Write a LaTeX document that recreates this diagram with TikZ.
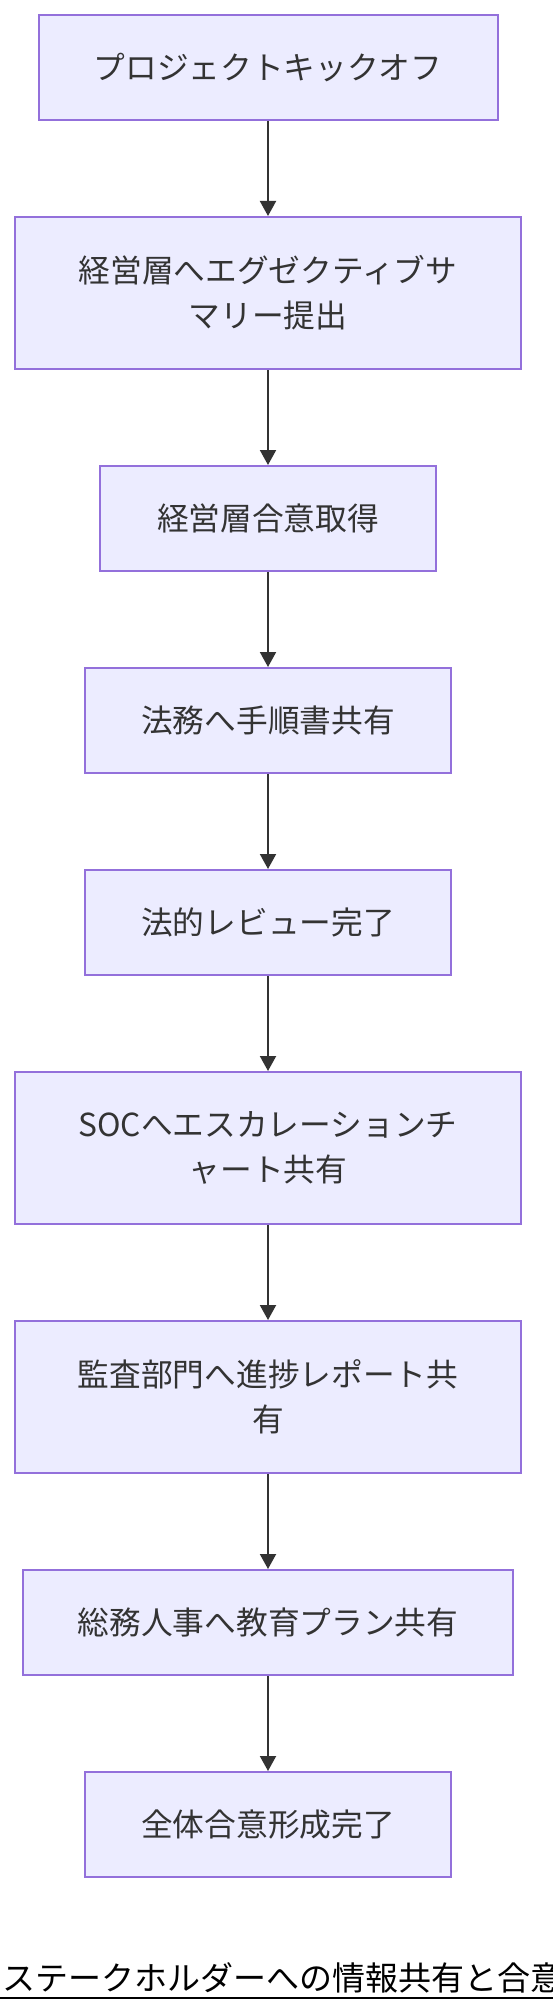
\documentclass[tikz,border=0pt]{standalone}
\usepackage{fontspec}
\setmainfont{Noto Sans CJK JP}
\usepackage{tikz}
\usetikzlibrary{arrows.meta,positioning}
\definecolor{boxfill}{HTML}{ECECFF}
\definecolor{boxline}{HTML}{9370DB}
\definecolor{linkgray}{HTML}{333333}
\tikzstyle{block} = [rectangle, draw=boxline, fill=boxfill, line width=2pt, text=linkgray, align=center, font=\fontsize{31.7pt}{45pt}\selectfont, minimum height=105pt]
\tikzstyle{tall} = [minimum height=152pt]
\tikzstyle{link} = [->, draw=linkgray, line width=2pt]
\tikzstyle{headline} = [font=\fontsize{33pt}{33pt}\selectfont, text=black, inner sep=0pt]

\begin{document}
\begin{tikzpicture}[auto, node distance=95pt, >={Triangle[length=15pt,width=16pt]}]
    \useasboundingbox (0,0) rectangle (552pt,-2012pt);
    \node[block, minimum width=459pt] (kickoff) at (268pt,-67.5pt) {プロジェクトキックオフ};
    \node[block, tall, minimum width=506pt, below=of kickoff] (execsum) {経営層へエグゼクティブサ\\マリー提出};
    \node[block, minimum width=336pt, below=of execsum] (execok) {経営層合意取得};
    \node[block, minimum width=366pt, below=of execok] (legalshare) {法務へ手順書共有};
    \node[block, minimum width=366pt, below=of legalshare] (legalrev) {法的レビュー完了};
    \node[block, tall, minimum width=506pt, below=of legalrev] (socshare) {SOCへエスカレーションチ\\ャート共有};
    \node[block, tall, minimum width=506pt, below=of socshare] (auditshare) {監査部門へ進捗レポート共\\有};
    \node[block, minimum width=490pt, below=of auditshare] (hrshare) {総務人事へ教育プラン共有};
    \node[block, minimum width=366pt, below=of hrshare] (consensus) {全体合意形成完了};

    \node[headline, anchor=base west] (heading) at (2pt,-1990pt) {ステークホルダーへの情報共有と合意形成};

    \draw[link] (kickoff) -- (execsum);
    \draw[link] (execsum) -- (execok);
    \draw[link] (execok) -- (legalshare);
    \draw[link] (legalshare) -- (legalrev);
    \draw[link] (legalrev) -- (socshare);
    \draw[link] (socshare) -- (auditshare);
    \draw[link] (auditshare) -- (hrshare);
    \draw[link] (hrshare) -- (consensus);
    \draw[line width=2pt, black] ([shift={(-2pt,-7.5pt)}]heading.base west) -- ([yshift=-7.5pt]heading.base east);
\end{tikzpicture}
\end{document}
